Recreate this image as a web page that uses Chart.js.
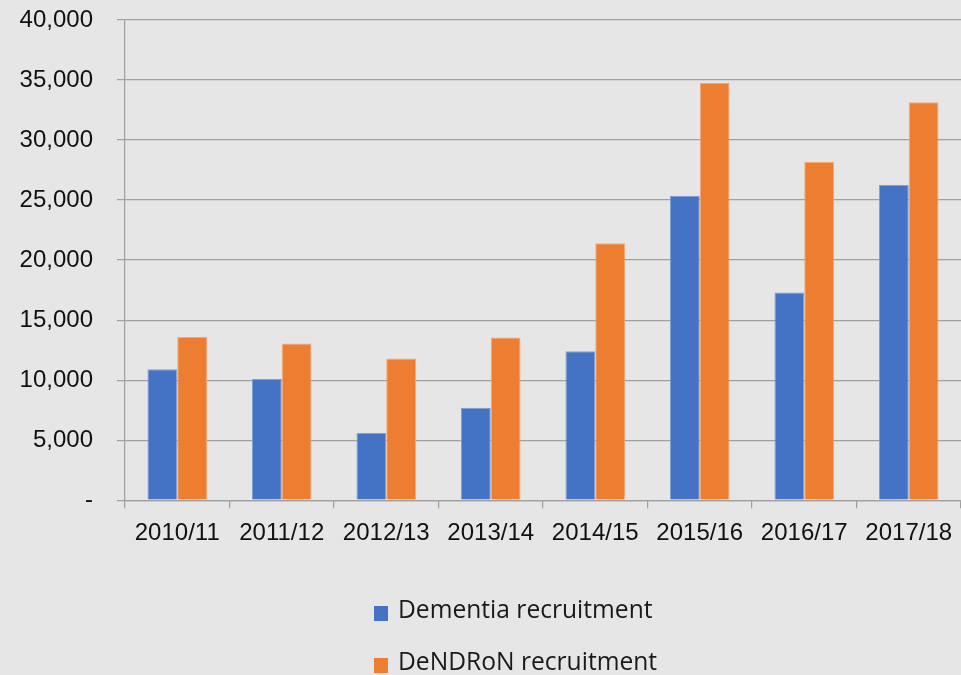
<!DOCTYPE html>
<html>
<head>
<meta charset="utf-8">
<script src="https://cdn.jsdelivr.net/npm/chart.js@4/dist/chart.umd.min.js"></script>
<style>
  html, body { margin: 0; padding: 0; background: #e6e6e6; }
  #wrap { position: relative; width: 961px; height: 675px; overflow: hidden; background: #e6e6e6; }
  #c { position: absolute; left: 0; top: 0; }
  .leg { position: absolute; left: 374px; font-family: "Open Sans", sans-serif; font-size: 24.6px; color: #1a1a1a; white-space: nowrap; line-height: 30px; }
  .leg span.box { display: inline-block; width: 14px; height: 15px; vertical-align: middle; margin-right: 10px; position: relative; top: 2px; }
</style>
</head>
<body>
<div id="wrap">
  <canvas id="c" width="961" height="675"></canvas>
  <div class="leg" style="top:594px"><span class="box" style="background:#4472C4"></span>Dementia recruitment</div>
  <div class="leg" style="top:646px"><span class="box" style="background:#ED7D31"></span>DeNDRoN recruitment</div>
</div>
<script>
const categories = ["2010/11", "2011/12", "2012/13", "2013/14", "2014/15", "2015/16", "2016/17", "2017/18"];
const dementiaRecruitment = [10900, 10100, 5600, 7700, 12400, 25350, 17300, 26250];
const dendronRecruitment = [13600, 13050, 11800, 13550, 21400, 34750, 28200, 33150];
const seriesNames = ["Dementia recruitment", "DeNDRoN recruitment"];
const yTickValues = [0, 5000, 10000, 15000, 20000, 25000, 30000, 35000, 40000];

const gridColor = "#a0a0a0";
const tickFont = { family: "'Liberation Sans', Arial, sans-serif", size: 24 };

new Chart(document.getElementById("c"), {
  type: "bar",
  data: {
    labels: categories,
    datasets: [
      { label: seriesNames[0], data: dementiaRecruitment, backgroundColor: "#4472C4", borderColor: "#7f9fd6", borderWidth: 1, categoryPercentage: 0.57, barPercentage: 1.0 },
      { label: seriesNames[1], data: dendronRecruitment, backgroundColor: "#ED7D31", borderColor: "#f3a874", borderWidth: 1, categoryPercentage: 0.57, barPercentage: 1.0 }
    ]
  },
  options: {
    responsive: false,
    animation: false,
    layout: { padding: { top: 20, right: 0, bottom: 116, left: 0 } },
    plugins: { legend: { display: false }, tooltip: { enabled: false } },
    scales: {
      x: {
        afterFit: s => { s.paddingLeft = 0; s.paddingRight = 0; },
        grid: { drawOnChartArea: false, drawTicks: true, tickLength: 8, color: gridColor, lineWidth: 1.25, offset: true },
        border: { display: true, color: gridColor, width: 1.25 },
        ticks: { color: "#111", font: tickFont, padding: 11, maxRotation: 0, autoSkip: false }
      },
      y: {
        min: 0, max: 40000,
        afterFit: s => { s.width = 125; s.paddingTop = 0; s.paddingBottom = 0; },
        afterBuildTicks: s => { s.ticks = yTickValues.map(v => ({ value: v })); },
        grid: { color: gridColor, lineWidth: 1.25, tickLength: 8, drawTicks: true },
        border: { display: true, color: gridColor, width: 1.25 },
        ticks: {
          color: "#111", font: tickFont, padding: 24,
          callback: v => v === 0 ? "-" : Number(v).toLocaleString("en-US")
        }
      }
    }
  }
});
</script>
</body>
</html>
